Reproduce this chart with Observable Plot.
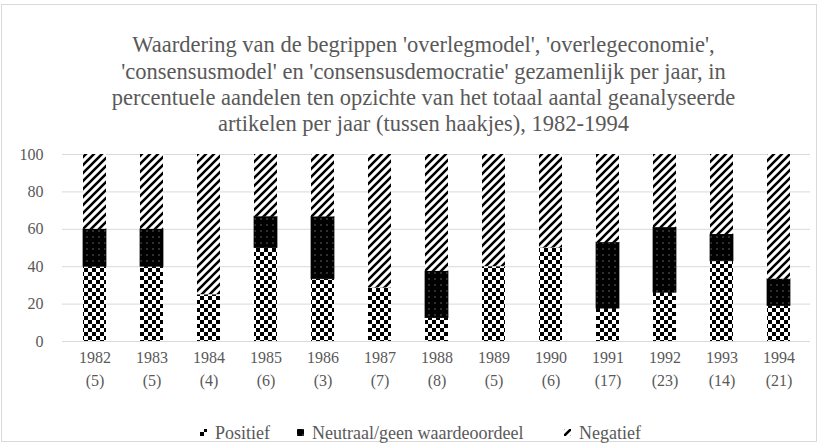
<!DOCTYPE html>
<html>
<head>
<meta charset="utf-8">
<script src="https://cdn.jsdelivr.net/npm/d3@7"></script>
<script src="https://cdn.jsdelivr.net/npm/@observablehq/plot@0.6"></script>
<style>
  body { margin: 0; background: #fff; }
  #chart { width: 818px; height: 443px; }
</style>
</head>
<body>
<div id="chart"></div>
<script>
const years = ["1982","1983","1984","1985","1986","1987","1988","1989","1990","1991","1992","1993","1994"];
const counts = [5,5,4,6,3,7,8,5,6,17,23,14,21];
const positief = [40,40,25,50,33.3,28.6,12.5,40,50,17.6,26.1,42.9,19.0];
const neutraal = [20,20,0,16.7,33.3,0,25,0,0,35.3,34.8,14.3,14.3];
const negatief = [40,40,75,33.3,33.4,71.4,62.5,60,50,47.1,39.1,42.8,66.7];
const seriesKeys = ["pos","neu","neg"];
const seriesNames = ["Positief","Neutraal/geen waardeoordeel","Negatief"];
const yTicks = [0,20,40,60,80,100];
const titleText = "Waardering van de begrippen 'overlegmodel', 'overlegeconomie',\n'consensusmodel' en 'consensusdemocratie' gezamenlijk per jaar, in\npercentuele aandelen ten opzichte van het totaal aantal geanalyseerde\nartikelen per jaar (tussen haakjes), 1982-1994";

const seriesValues = [positief, neutraal, negatief];
const data = [];
seriesKeys.forEach((k, s) => years.forEach((y, i) => data.push({year: y, key: k, value: seriesValues[s][i]})));
const countMap = new Map(years.map((y, i) => [y, counts[i]]));

const font = "'Liberation Serif', serif";
const textColor = "#595959";

const chart = Plot.plot({
  width: 818,
  height: 443,
  marginTop: 154,
  marginBottom: 102,
  marginLeft: 62,
  marginRight: 8,
  style: {fontFamily: font, fontSize: "16px", color: textColor, background: "#fff"},
  x: {domain: years, paddingInner: 0.6, paddingOuter: 0.3, label: null},
  y: {domain: [0, 100], label: null},
  color: {type: "identity"},
  marks: [
    Plot.gridY(yTicks, {stroke: "#d9d9d9", strokeOpacity: 1, strokeWidth: 1}),
    Plot.barY(data, Plot.stackY({
      x: "year", y: "value", z: "key",
      order: seriesKeys,
      fill: d => `url(#pat-${d.key})`,
      stroke: d => d.key === "neu" ? "#000" : "none",
      strokeWidth: 0.75,
      inset: 0
    })),
    Plot.axisY(yTicks, {tickSize: 0, tickPadding: 19, fontSize: 16, fill: textColor, label: null}),
    Plot.axisX({tickSize: 0, tickPadding: 5, fontSize: 16, fill: textColor, lineHeight: 1.45,
      tickFormat: d => `${d}\n(${countMap.get(d)})`, label: null}),
    Plot.text([titleText], {frameAnchor: "top", dx: -13, dy: -71, lineAnchor: "middle",
      lineHeight: 1.17, fontSize: 22.5, fill: textColor, text: d => d})
  ]
});

const svg = d3.select(chart);
const defs = svg.insert("defs", ":first-child");
// checkerboard
const p1 = defs.append("pattern").attr("id", "pat-pos").attr("patternUnits", "userSpaceOnUse")
  .attr("width", 8).attr("height", 8);
p1.append("rect").attr("width", 8).attr("height", 8).attr("fill", "#fff");
p1.append("rect").attr("width", 4).attr("height", 4).attr("fill", "#000");
p1.append("rect").attr("x", 4).attr("y", 4).attr("width", 4).attr("height", 4).attr("fill", "#000");
// black with dots
const p2 = defs.append("pattern").attr("id", "pat-neu").attr("patternUnits", "userSpaceOnUse")
  .attr("width", 6).attr("height", 6);
p2.append("rect").attr("width", 6).attr("height", 6).attr("fill", "#000");
p2.append("rect").attr("x", 2.5).attr("y", 2.5).attr("width", 1).attr("height", 1).attr("fill", "#bbb");
// wide upward diagonal
const p3 = defs.append("pattern").attr("id", "pat-neg").attr("patternUnits", "userSpaceOnUse")
  .attr("width", 8).attr("height", 8);
p3.append("rect").attr("width", 8).attr("height", 8).attr("fill", "#fff");
p3.append("path").attr("d", "M-2,2 L2,-2 M0,8 L8,0 M6,10 L10,6").attr("stroke", "#000").attr("stroke-width", 2.6);

// border
svg.append("rect").attr("x", 1.5).attr("y", 4.5).attr("width", 815).attr("height", 437)
  .attr("fill", "none").attr("stroke", "#d9d9d9");

// legend
const legendItems = [
  {key: "pos", name: seriesNames[0], x: 200},
  {key: "neu", name: seriesNames[1], x: 297},
  {key: "neg", name: seriesNames[2], x: 564}
];
const lg = svg.append("g").attr("font-family", font).attr("font-size", 18).attr("fill", textColor)
  .attr("text-anchor", "start");
legendItems.forEach(it => {
  lg.append("rect").attr("x", it.x).attr("y", 429).attr("width", 7).attr("height", 7)
    .attr("fill", `url(#pat-${it.key})`);
  lg.append("text").attr("x", it.x + 15).attr("y", 433).attr("dy", "0.35em")
    .attr("text-anchor", "start").text(it.name);
});

document.getElementById("chart").appendChild(chart);
</script>
</body>
</html>
